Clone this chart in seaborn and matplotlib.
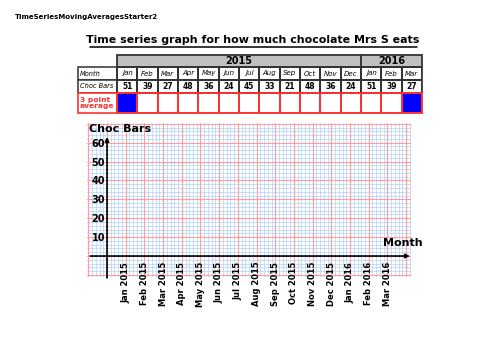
import matplotlib
matplotlib.use("Agg")
import matplotlib.pyplot as plt
import seaborn as sns
import numpy as np
from matplotlib.colors import ListedColormap
from matplotlib.patches import Rectangle

# ---------------- data ----------------
doc_name = "TimeSeriesMovingAveragesStarter2"
title = "Time series graph for how much chocolate Mrs S eats"
years = ["2015", "2016"]
year_spans = [12, 3]
months = ["Jan", "Feb", "Mar", "Apr", "May", "Jun", "Jul", "Aug", "Sep",
          "Oct", "Nov", "Dec", "Jan", "Feb", "Mar"]
month_years = [2015] * 12 + [2016] * 3
choc_bars = [51, 39, 27, 48, 36, 24, 45, 33, 21, 48, 36, 24, 51, 39, 27]
avg_blocked = [1, 0, 0, 0, 0, 0, 0, 0, 0, 0, 0, 0, 0, 0, 1]
y_ticks = [10, 20, 30, 40, 50, 60]
x_labels = [f"{m} {y}" for m, y in zip(months, month_years)]
row_labels = ["Month", "Choc Bars"]
avg_label = "3 point\naverage"
y_title = "Choc Bars"
x_title = "Month"

sns.set_theme(style="white")
plt.rcParams['font.family'] = ['DejaVu Sans']
plt.rcParams['axes.axisbelow'] = False
plt.rcParams['text.color'] = 'black'
plt.rcParams['xtick.color'] = 'black'
plt.rcParams['ytick.color'] = 'black'

W, H = 500, 354
fig = plt.figure(figsize=(5, 3.54), dpi=100)
fig.patch.set_facecolor("white")


def fax(x0, y0, x1, y1):
    return fig.add_axes([x0 / W, 1 - y1 / H, (x1 - x0) / W, (y1 - y0) / H])


# overlay for free text / table frame
ov = fax(0, 0, W, H)
ov.set_xlim(0, W)
ov.set_ylim(H, 0)
ov.axis('off')
ov.patch.set_alpha(0)

ov.text(15, 17, doc_name, fontsize=5, fontweight='bold', ha='left', va='center')
ov.text(253, 40, title, fontsize=7.9, fontweight='bold', ha='center', va='center')
ov.plot([90, 417], [47, 47], color='black', lw=1.1)

TX0, TC0, TX1 = 78, 117, 422
cw = (TX1 - TC0) / len(months)
edge = '#333333'
red = '#ff3030'

# year header
x = TC0
for yname, span in zip(years, year_spans):
    ov.add_patch(Rectangle((x, 55), span * cw, 12, facecolor='#c0c0c0',
                           edgecolor=edge, lw=1.3))
    ov.text(x + span * cw / 2, 61.3, yname, fontsize=7, fontweight='bold',
            ha='center', va='center')
    x += span * cw

# label column
ov.add_patch(Rectangle((TX0, 67), TC0 - TX0, 13, facecolor='white', edgecolor=edge, lw=1.1))
ov.add_patch(Rectangle((TX0, 80), TC0 - TX0, 13, facecolor='white', edgecolor=edge, lw=1.1))
ov.add_patch(Rectangle((TX0, 93), TC0 - TX0, 20, facecolor='white', edgecolor=red, lw=1.2))
ov.text(80, 73.5, row_labels[0], fontsize=4.8, style='italic', ha='left', va='center')
ov.text(80, 86.5, row_labels[1], fontsize=4.8, style='italic', ha='left', va='center')
ov.text(80, 103, avg_label, fontsize=5.4, fontweight='bold', color=red,
        ha='left', va='center', linespacing=0.95)

# month / values table via heatmap
hx = fax(TC0, 67, TX1, 93)
annot = np.array([months, [str(v) for v in choc_bars]])
sns.heatmap(np.zeros((2, len(months))), ax=hx, cmap=ListedColormap(['white']),
            cbar=False, annot=annot, fmt='', linewidths=1.1, linecolor=edge,
            annot_kws=dict(fontsize=5, color='black'),
            xticklabels=False, yticklabels=False)
for t in hx.texts:
    if t.get_text().isdigit():
        t.set_fontweight('bold')
        t.set_fontsize(5.5)
    else:
        t.set_style('italic')
for s in hx.spines.values():
    s.set_visible(True)
    s.set_color(edge)
    s.set_linewidth(1.2)

# 3 point average row via heatmap
ax_avg = fax(TC0, 93, TX1, 113)
sns.heatmap(np.array([avg_blocked]), ax=ax_avg, cmap=ListedColormap(['white', '#0000ff']),
            vmin=0, vmax=1, cbar=False, linewidths=1.2, linecolor=red,
            xticklabels=False, yticklabels=False)
for s in ax_avg.spines.values():
    s.set_visible(True)
    s.set_color(red)
    s.set_linewidth(1.3)

# ---------------- graph paper chart ----------------
ax = fax(87, 123, 411, 277)
ax.set_axisbelow(False)
ax.set_xlim(-1.07, 16.26)
ax.set_ylim(-11.1, 70.4)
for s in ax.spines.values():
    s.set_visible(False)

for gx in np.arange(-1, 16.3, 0.2):
    ax.axvline(gx, color='#b8d3f7', lw=0.55, zorder=1)
for gy in np.arange(-10, 71, 2):
    ax.axhline(gy, color='#b8d3f7', lw=0.55, zorder=1)
for gx in range(-1, 17):
    ax.axvline(gx, color='#ff9c9c', lw=0.8, zorder=1.2)
for gy in range(-10, 71, 10):
    ax.axhline(gy, color='#ff9c9c', lw=0.8, zorder=1.2)

ax.annotate('', xy=(0, 63), xytext=(0, -11.6), annotation_clip=False,
            arrowprops=dict(arrowstyle='-|>', color='black', lw=1.2, mutation_scale=6,
                            shrinkA=0, shrinkB=0))
ax.annotate('', xy=(16.2, 0), xytext=(-0.9, 0), annotation_clip=False,
            arrowprops=dict(arrowstyle='-|>', color='black', lw=1.2, mutation_scale=6,
                            shrinkA=0, shrinkB=0))

ax.set_xticks(range(1, len(months) + 1))
ax.set_xticklabels(x_labels, rotation=90, fontsize=6, fontweight='bold', color='black')
ax.tick_params(axis='x', length=0, pad=-11, labelcolor='black')
ax.set_yticks(y_ticks)
ax.set_yticklabels([str(v) for v in y_ticks], fontsize=7, fontweight='bold', color='black')
ax.tick_params(axis='y', length=0, pad=-13, labelcolor='black')
ax.xaxis.set_zorder(5)
ax.yaxis.set_zorder(5)

ax.text(-0.95, 67.4, y_title, fontsize=8, fontweight='bold', ha='left', va='center',
        zorder=6, color='black')
ax.text(14.75, 6.9, x_title, fontsize=8, fontweight='bold', ha='left', va='center',
        clip_on=False, zorder=6, color='black')

fig.savefig("out.png", dpi=100, facecolor="white")
